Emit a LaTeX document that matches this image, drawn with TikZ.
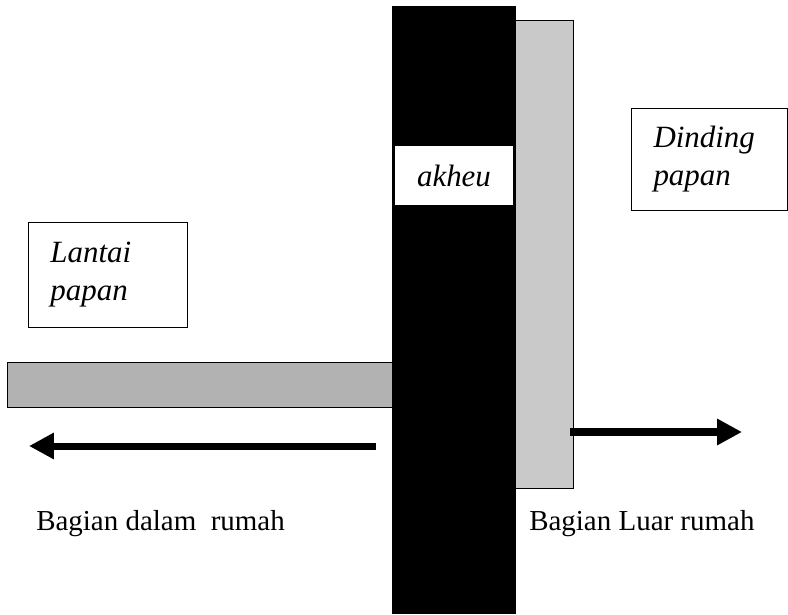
\documentclass[tikz,border=0pt]{standalone}
\usepackage{fontspec}
\setmainfont{Liberation Serif}
\usetikzlibrary{arrows.meta,positioning}
\definecolor{floorgray}{gray}{0.70}
\definecolor{wallgray}{gray}{0.79}

\begin{document}
\begin{tikzpicture}[slab/.style={draw=black, line width=0.7pt, inner sep=0pt, anchor=south west}, tag/.style={draw=black, line width=0.7pt, anchor=south west, align=left, inner xsep=0.55cm, font=\fontsize{22pt}{27pt}\selectfont\itshape}, lbl/.style={anchor=west, inner sep=0pt, font=\fontsize{20.6pt}{27pt}\selectfont}, flow/.style={-{Triangle[length=0.62cm, width=0.62cm]}, black}]
\useasboundingbox (0,0) rectangle (19.7,15.35);
\node[slab, fill=floorgray, minimum width=9.625cm, minimum height=1.125cm] (floor) at (0.175,5.15) {}; \node[slab, fill=wallgray, minimum width=1.45cm, minimum height=11.7cm] (wall) at (12.875,3.125) {}; \node[slab, fill=black, minimum width=3.075cm, minimum height=15.175cm] (post) at (9.8,0) {};
\node[slab, fill=white, minimum width=2.975cm, minimum height=1.5cm, font=\fontsize{22pt}{27pt}\selectfont\itshape] (akheu) at (9.85,10.2) {akheu};
\node[tag, text width=2.875cm, minimum height=2.625cm] (lantai) at (0.7,7.15) {Lantai\\papan}; \node[tag, text width=2.8cm, minimum height=2.55cm] (dinding) at (15.775,10.075) {Dinding\\papan};
\coordinate (inStart) at (9.4,4.2); \coordinate (inEnd) at (0.725,4.2); \coordinate (outStart) at (14.25,4.55); \coordinate (outEnd) at (18.55,4.55);
\draw[flow, line width=0.175cm] (inStart) -- (inEnd); \draw[flow, line width=0.2cm] (outStart) -- (outEnd);
\node[lbl] (inside) at (0.9,2.25) {Bagian dalam~~rumah}; \node[lbl] (outside) at (13.225,2.25) {Bagian Luar rumah};
\end{tikzpicture}
\end{document}
